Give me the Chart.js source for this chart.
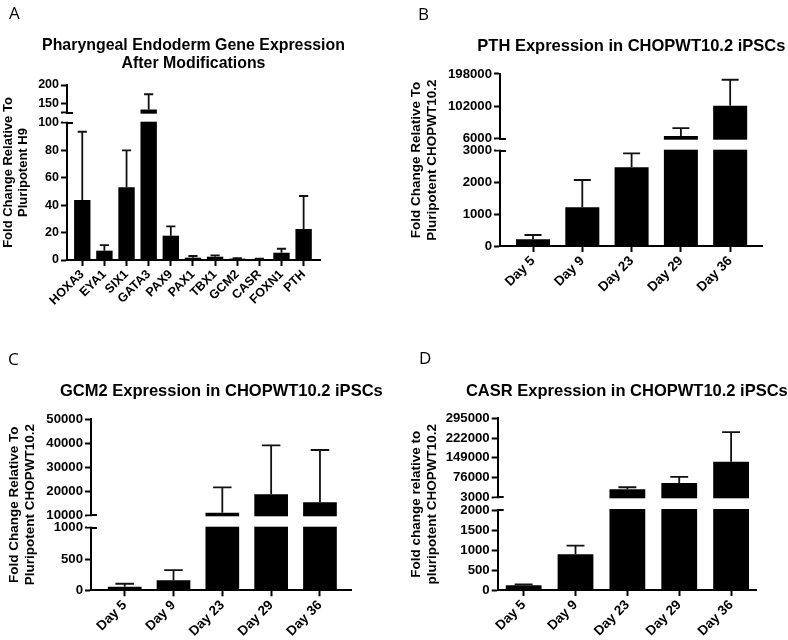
<!DOCTYPE html>
<html>
<head>
<meta charset="utf-8">
<script src="https://cdn.jsdelivr.net/npm/chart.js@4/dist/chart.umd.min.js"></script>
<style>
html, body { margin: 0; padding: 0; background: #fff; }
#wrap { position: relative; width: 788px; height: 640px; overflow: hidden; background: #fff; }
canvas { position: absolute; }
.letter { position: absolute; font-family: 'Open Sans', sans-serif; font-size: 17px; line-height: 17px; color: #000; }
</style>
</head>
<body>
<div id="wrap">
  <canvas id="cA" width="394" height="320" style="left:0;top:0"></canvas>
  <canvas id="cB" width="394" height="320" style="left:394px;top:0"></canvas>
  <canvas id="cC" width="394" height="320" style="left:0;top:320px"></canvas>
  <canvas id="cD" width="394" height="320" style="left:394px;top:320px"></canvas>
  <div class="letter" style="left:9px;top:4px">A</div>
  <div class="letter" style="left:418px;top:5px">B</div>
  <div class="letter" style="left:8px;top:350px">C</div>
  <div class="letter" style="left:419px;top:349px">D</div>
</div>
<script>
// ---------------- data ----------------
const geneLabels = ['HOXA3', 'EYA1', 'SIX1', 'GATA3', 'PAX9', 'PAX1', 'TBX1', 'GCM2', 'CASR', 'FOXN1', 'PTH'];
const geneMeans  = [43.7, 6.8, 52.9, 134, 17.7, 1.7, 2.4, 1.0, 0.7, 5.3, 22.6];
const geneErrors = [49.7, 4.1, 27.0, 41, 6.8, 1.2, 1.0, 0.3, 0.2, 2.9, 24.0];

const dayLabels = ['Day 5', 'Day 9', 'Day 23', 'Day 29', 'Day 36'];

const pthMeans  = [210, 1218, 2476, 14000, 104000];
const pthErrors = [136, 859, 441, 23500, 77000];

const gcm2Means  = [57, 159, 11080, 18720, 15400];
const gcm2Errors = [48, 163, 10550, 20360, 21730];

const casrMeans  = [117, 892, 32700, 56060, 134000];
const casrErrors = [25, 216, 7400, 22240, 110200];

const geneTicks      = [0, 20, 40, 60, 80, 100, 125, 150, 200];
const geneTickLabels = ['0', '20', '40', '60', '80', '100', '', '150', '200'];
const pthTicks       = [0, 1000, 2000, 3000, 6000, 102000, 198000];
const pthTickLabels  = ['0', '1000', '2000', '3000', '6000', '102000', '198000'];
const gcm2Ticks      = [0, 500, 1000, 10000, 20000, 30000, 40000, 50000];
const gcm2TickLabels = ['0', '500', '1000', '10000', '20000', '30000', '40000', '50000'];
const casrTicks      = [0, 500, 1000, 1500, 2000, 3000, 76000, 149000, 222000, 295000];
const casrTickLabels = ['0', '500', '1000', '1500', '2000', '3000', '76000', '149000', '222000', '295000'];

// axis breaks: [lower segment max, upper segment min, axis max]
const geneBreak = [100, 125, 200];
const pthBreak  = [3000, 6000, 198000];
const gcm2Break = [1000, 10000, 50000];
const casrBreak = [2000, 3000, 295000];

// ---------------- broken (segmented) linear scale ----------------
const FONT = "'Liberation Sans', Arial, Helvetica, sans-serif";

class BrokenScale extends Chart.LinearScale {
  static id = 'broken';
  static defaults = {};
  _segs() {
    const b = this.brk;
    const H = this.bottom - this.top;
    const lowH = H * b.lowFrac, gapH = H * b.gapFrac;
    return { b, lowH, gapH, highH: H - lowH - gapH };
  }
  getPixelForValue(v) {
    if (v === null || v === undefined || Number.isNaN(+v)) return NaN;
    if (!this.brk) return super.getPixelForValue(v);
    const { b, lowH, gapH, highH } = this._segs();
    if (v <= b.lowMax) return this.bottom - (v - this.min) / (b.lowMax - this.min) * lowH;
    if (v >= b.highMin) return this.bottom - lowH - gapH - (v - b.highMin) / (this.max - b.highMin) * highH;
    return this.bottom - lowH - (v - b.lowMax) / (b.highMin - b.lowMax) * gapH;
  }
  getValueForPixel(px) {
    if (!this.brk) return super.getValueForPixel(px);
    const { b, lowH, gapH, highH } = this._segs();
    const d = this.bottom - px;
    if (d <= lowH) return this.min + d / lowH * (b.lowMax - this.min);
    if (d >= lowH + gapH) return b.highMin + (d - lowH - gapH) / highH * (this.max - b.highMin);
    return b.lowMax + (d - lowH) / gapH * (b.highMin - b.lowMax);
  }
}
Chart.register(BrokenScale);

function makePanel(id, p) {
  const brk = { lowMax: p.breakVals[0], highMin: p.breakVals[1], lowFrac: p.lowFrac, gapFrac: p.gapFrac };
  const canvas = document.getElementById(id);

  const overlay = {
    id: 'breakErrorsTitle',
    afterDatasetsDraw(chart) {
      const ctx = chart.ctx, y = chart.scales.y, a = chart.chartArea;
      const yHi = y.getPixelForValue(brk.highMin);
      const yLo = y.getPixelForValue(brk.lowMax);
      ctx.save();
      // white gap between the two axis segments
      ctx.fillStyle = '#fff';
      ctx.fillRect(a.left - 4, yHi + 1, a.right - a.left + 8, yLo - yHi - 2);
      // break marks reach to the right of the axis
      ctx.strokeStyle = '#000';
      ctx.lineWidth = 2;
      ctx.beginPath();
      [yHi, yLo].forEach(py => { ctx.moveTo(a.left - 1, Math.round(py)); ctx.lineTo(a.left + 6, Math.round(py)); });
      ctx.stroke();
      // error bars (upper whisker only)
      const meta = chart.getDatasetMeta(0);
      ctx.lineWidth = 1.8;
      ctx.strokeStyle = '#111';
      meta.data.forEach((bar, i) => {
        const top = y.getPixelForValue(p.means[i] + p.errors[i]);
        const half = bar.width * p.capFrac / 2;
        ctx.beginPath();
        ctx.moveTo(bar.x, bar.y);
        ctx.lineTo(bar.x, top);
        ctx.moveTo(bar.x - half, top);
        ctx.lineTo(bar.x + half, top);
        ctx.stroke();
      });
      ctx.restore();
    },
    afterDraw(chart) {
      // chart title, centred over the plot area (no width squeezing)
      const ctx = chart.ctx, a = chart.chartArea;
      ctx.save();
      ctx.fillStyle = '#000';
      ctx.font = 'bold ' + p.titleSize + 'px ' + FONT;
      ctx.textAlign = 'center';
      ctx.textBaseline = 'middle';
      p.title.forEach((line, i) => ctx.fillText(line, (a.left + a.right) / 2, p.titleY + i * p.titleLH));
      ctx.restore();
    }
  };

  const xh = canvas.height - p.plotBottom;

  return new Chart(canvas, {
    type: 'bar',
    data: {
      datasets: [{
        data: p.means.map((v, i) => ({ x: i, y: v })),
        backgroundColor: '#000',
        borderWidth: 0,
        barPercentage: p.barPct,
        categoryPercentage: 1
      }]
    },
    options: {
      responsive: false,
      animation: false,
      events: [],
      layout: { padding: { left: 0, right: p.padR, top: p.plotTop, bottom: 0 } },
      plugins: {
        legend: { display: false },
        tooltip: { enabled: false },
        title: { display: false }
      },
      scales: {
        x: {
          type: 'linear',
          min: p.xRange[0],
          max: p.xRange[1],
          offset: false,
          afterBuildTicks: s => { s.ticks = p.labels.map((_, i) => ({ value: i })); },
          afterFit: s => { s.height = xh; },
          grid: { offset: false, drawOnChartArea: false, drawTicks: true, tickLength: 6, tickWidth: 2, tickColor: '#000' },
          border: { color: '#000', width: 2 },
          ticks: {
            autoSkip: false, minRotation: 45, maxRotation: 45, padding: 1, color: '#000',
            font: { family: FONT, size: p.xTickSize, weight: 'bold' },
            callback: v => p.labels[v]
          }
        },
        y: {
          type: 'broken',
          min: 0,
          max: p.breakVals[2],
          afterDataLimits: s => { s.brk = brk; },
          afterBuildTicks: s => { s.ticks = p.ticks.map(v => ({ value: v })); },
          afterFit: s => { s.width = p.yw; },
          grid: { drawOnChartArea: false, drawTicks: true, tickLength: 6, tickWidth: 2, tickColor: '#000' },
          border: { color: '#000', width: 2 },
          ticks: {
            autoSkip: false, padding: 2, color: '#000',
            font: { family: FONT, size: p.yTickSize, weight: 'bold' },
            callback: v => p.tickLabels[p.ticks.indexOf(v)]
          },
          title: {
            display: true,
            text: p.yTitle,
            color: '#000',
            font: { family: FONT, size: p.yTitleSize, weight: 'bold', lineHeight: 1.2 },
            padding: { top: p.yTitlePad, bottom: 0 }
          }
        }
      }
    },
    plugins: [overlay]
  });
}

makePanel('cA', {
  labels: geneLabels, means: geneMeans, errors: geneErrors,
  ticks: geneTicks, tickLabels: geneTickLabels, breakVals: geneBreak,
  lowFrac: 137.3 / 175, gapFrac: 10 / 175,
  xRange: [-0.69, 10.74], barPct: 0.74, capFrac: 0.56,
  title: ['Pharyngeal Endoderm Gene Expression', 'After Modifications'],
  titleSize: 15.9, titleLH: 18.3, titleY: 45.5,
  yTitle: ['Fold Change Relative To', 'Pluripotent H9'], yTitleSize: 13, yTitlePad: 0.5,
  yw: 67, padR: 74, plotTop: 85, plotBottom: 260, xTickSize: 12.5, yTickSize: 12.5
});

makePanel('cB', {
  labels: dayLabels, means: pthMeans, errors: pthErrors,
  ticks: pthTicks, tickLabels: pthTickLabels, breakVals: pthBreak,
  lowFrac: 95.3 / 172, gapFrac: 12 / 172,
  xRange: [-0.67, 4.66], barPct: 0.69, capFrac: 0.5,
  title: ['PTH Expression in CHOPWT10.2 iPSCs'],
  titleSize: 16.5, titleLH: 19.8, titleY: 46.6,
  yTitle: ['Fold Change Relative To', 'Pluripotent CHOPWT10.2'], yTitleSize: 13.5, yTitlePad: 14.4,
  yw: 106, padR: 25.3, plotTop: 74, plotBottom: 246, xTickSize: 13.5, yTickSize: 13.2
});

makePanel('cC', {
  labels: dayLabels, means: gcm2Means, errors: gcm2Errors,
  ticks: gcm2Ticks, tickLabels: gcm2TickLabels, breakVals: gcm2Break,
  lowFrac: 62.6 / 171.3, gapFrac: 12.4 / 171.3,
  xRange: [-0.69, 4.65], barPct: 0.69, capFrac: 0.55,
  title: ['GCM2 Expression in CHOPWT10.2 iPSCs'],
  titleSize: 16.5, titleLH: 19.8, titleY: 71.3,
  yTitle: ['Fold Change Relative To', 'Pluripotent CHOPWT10.2'], yTitleSize: 13.5, yTitlePad: 6.1,
  yw: 91, padR: 42.3, plotTop: 99, plotBottom: 270.3, xTickSize: 13.5, yTickSize: 13.2
});

makePanel('cD', {
  labels: dayLabels, means: casrMeans, errors: casrErrors,
  ticks: casrTicks, tickLabels: casrTickLabels, breakVals: casrBreak,
  lowFrac: 80 / 171.7, gapFrac: 12.7 / 171.7,
  xRange: [-0.5, 4.48], barPct: 0.69, capFrac: 0.5,
  title: ['CASR Expression in CHOPWT10.2 iPSCs'],
  titleSize: 16.5, titleLH: 19.8, titleY: 71.3,
  yTitle: ['Fold change relative to', 'pluripotent CHOPWT10.2'], yTitleSize: 13.5, yTitlePad: 14.4,
  yw: 103.7, padR: 32, plotTop: 98.3, plotBottom: 270, xTickSize: 13.5, yTickSize: 13.2
});
</script>
</body>
</html>
